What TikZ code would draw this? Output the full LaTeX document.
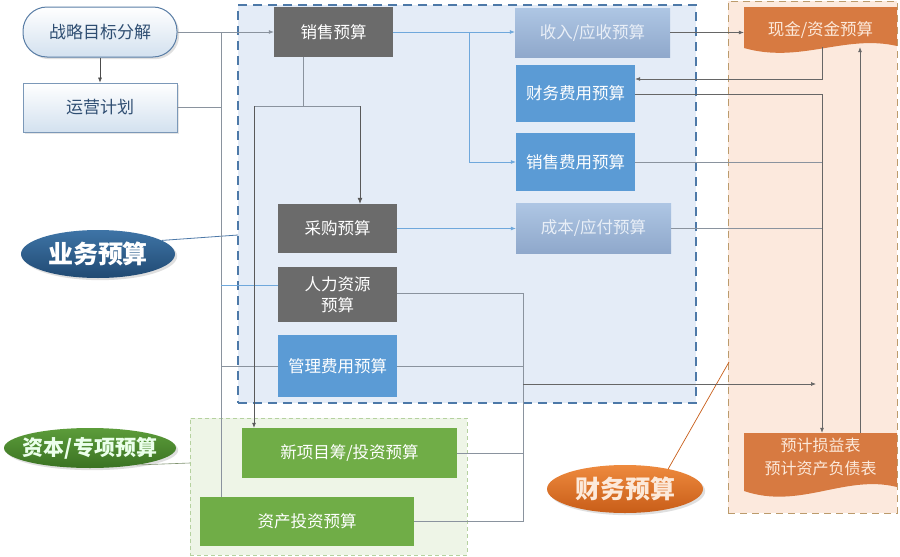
\documentclass[tikz,border=0pt]{standalone}
\usepackage{fontspec}
\newfontfamily\cjk{Noto Sans CJK SC}
\usetikzlibrary{arrows.meta,shapes.geometric,shadows}
\definecolor{lineg}{HTML}{8A939E}
\definecolor{lineb}{HTML}{6FA8DC}
\definecolor{goalbot}{HTML}{D3E1EF}
\definecolor{goalborder}{HTML}{5A7EA6}
\definecolor{goaltext}{HTML}{2F4E72}
\definecolor{boxgray}{HTML}{6B6B6B}
\definecolor{boxblue}{HTML}{5B9BD5}
\definecolor{paletop}{HTML}{AEC6E4}
\definecolor{palebot}{HTML}{8FA8CB}
\definecolor{paletext}{HTML}{E9EFF7}
\definecolor{boxgreen}{HTML}{70AD47}
\definecolor{docorange}{HTML}{D77A41}
\definecolor{doctext}{HTML}{FCE9DA}
\definecolor{bizfill}{HTML}{E4ECF7}
\definecolor{bizborder}{HTML}{4D79A8}
\definecolor{capfill}{HTML}{EEF5E7}
\definecolor{capborder}{HTML}{B5D19F}
\definecolor{finfill}{HTML}{FCE9DD}
\definecolor{finborder}{HTML}{BC9B6C}
\definecolor{bizlt}{HTML}{3E74A6}
\definecolor{bizdk}{HTML}{214A73}
\definecolor{caplt}{HTML}{5C9C3A}
\definecolor{capdk}{HTML}{3B7323}
\definecolor{finlt}{HTML}{EE8A3E}
\definecolor{findk}{HTML}{C85D18}
\tikzset{
  conn/.style={draw=lineg, line width=0.7pt},
  bconn/.style={draw=lineb, line width=0.7pt},
  arr/.style={-{Latex[length=5pt,width=4pt]}},
  box/.style={rectangle, inner sep=2pt, align=center, font=\cjk\fontsize{16.5}{21}\selectfont},
  graybox/.style={box, fill=boxgray, text=white},
  bluebox/.style={box, fill=boxblue, text=white},
  palebox/.style={box, top color=paletop, bottom color=palebot, text=paletext},
  greenbox/.style={box, fill=boxgreen, text=white},
  tag/.style={ellipse, inner sep=0pt, font=\cjk\bfseries\fontsize{25}{28}\selectfont},
  frame/.style={rectangle, inner sep=0pt},
}
\begin{document}
\begin{tikzpicture}[x=1pt,y=-1pt]
\useasboundingbox (0,0) rectangle (900,557);
\fill[white] (0,0) rectangle (900,557);

% containers
\node[frame, fill=bizfill, draw=bizborder, line width=1.2pt, dash pattern=on 9pt off 6pt,
      minimum width=458pt, minimum height=398pt] (bizbox) at (467,204) {};
\node[frame, fill=capfill, draw=capborder, line width=0.8pt, dash pattern=on 4pt off 3pt,
      minimum width=277pt, minimum height=137pt] (capbox) at (328.5,486.5) {};
\node[frame, fill=finfill, draw=finborder, line width=1pt, dash pattern=on 7pt off 5pt,
      minimum width=169pt, minimum height=512pt] (finbox) at (812.5,257) {};

% document shapes
\fill[docorange] (744,7) -- (897,7) -- (897,46) .. controls (845,34) and (800,64) .. (744,48) -- cycle;
\fill[docorange] (744,433) -- (897,433) -- (897,487) .. controls (845,474) and (800,510) .. (744,491) -- cycle;

% boxes
\node[box, rounded corners=24pt, minimum width=154pt, minimum height=50pt, top color=white,
      bottom color=goalbot, draw=goalborder, line width=1pt, text=goaltext,
      font=\cjk\fontsize{17}{21}\selectfont,
      drop shadow={opacity=0.25}] (goal) at (100,32) {战略目标分解};
\node[box, minimum width=154pt, minimum height=49pt, top color=white, bottom color=goalbot,
      draw=goalborder!80, line width=0.8pt, text=goaltext,
      font=\cjk\fontsize{17}{21}\selectfont,
      drop shadow={opacity=0.2}] (ops) at (100,107.5) {运营计划};
\node[graybox, minimum width=119pt, minimum height=50pt] (sales) at (333.5,32) {销售预算};
\node[palebox, minimum width=155pt, minimum height=49pt] (rev) at (592.5,32.5) {收入/应收预算};
\node[bluebox, minimum width=119pt, minimum height=57pt] (fin) at (575.5,93.5) {财务费用预算};
\node[bluebox, minimum width=119pt, minimum height=58pt] (sexp) at (575.5,162) {销售费用预算};
\node[graybox, minimum width=119pt, minimum height=49pt] (purch) at (337.5,228.5) {采购预算};
\node[palebox, minimum width=155pt, minimum height=50pt] (cost) at (593.5,228) {成本/应付预算};
\node[graybox, minimum width=119pt, minimum height=55pt] (hr) at (337.5,294.5) {人力资源\\预算};
\node[bluebox, minimum width=119pt, minimum height=62pt] (adm) at (337.5,366) {管理费用预算};
\node[greenbox, minimum width=215pt, minimum height=50pt] (newp) at (349.5,453) {新项目筹/投资预算};
\node[greenbox, minimum width=214pt, minimum height=49pt] (asset) at (307,521.5) {资产投资预算};
\node[box, text=doctext, minimum width=153pt, minimum height=34pt] (cash) at (820.5,30) {现金/资金预算};
\node[box, text=doctext, minimum width=153pt, minimum height=48pt, font=\cjk\fontsize{16}{23}\selectfont] (pl) at (820.5,457) {预计损益表\\预计资产负债表};

% label ellipses
\node[tag, minimum width=154pt, minimum height=48pt, top color=bizlt, bottom color=bizdk,
      text=white, drop shadow={opacity=0.25}] (biz) at (98,254) {业务预算};
\node[tag, minimum width=172pt, minimum height=40pt, inner xsep=-7pt, inner ysep=-4pt,
      top color=caplt, bottom color=capdk,
      text=white!92!green, font=\cjk\bfseries\fontsize{21}{24}\selectfont,
      drop shadow={opacity=0.25}] (cap) at (90,448) {资本/专项预算};
\node[tag, minimum width=156pt, minimum height=48pt, top color=finlt, bottom color=findk,
      text=doctext, drop shadow={opacity=0.25}] (finl) at (625,489) {财务预算};

% junction coordinates
\coordinate (j1) at (221,32);
\coordinate (j2) at (303,106);
\coordinate (j3) at (254,106);
\coordinate (j4) at (360,106);
\coordinate (j5) at (469,32);
\coordinate (j6) at (822,79);
\coordinate (j7) at (822,94);
\coordinate (j8) at (860,0);
\coordinate (j10) at (523,293);
\coordinate (j11) at (523,384);
\coordinate (bz) at (238,235);
\coordinate (cz) at (190,463);
\coordinate (fz) at (729,362);

% leader lines
\draw[draw=bizborder, line width=0.8pt] (biz.12) -- (bz);
\draw[draw=capborder!70!black, line width=0.6pt] (cap.-20) -- (cz);
\draw[draw=findk, line width=0.7pt] (finl.25) -- (fz);

% connectors
\draw[conn, arr] (goal.east) -- (sales.west);
\draw[draw=black!70, line width=0.6pt, arr] (goal.south) -- (ops.north);
\draw[conn] (j1) -- (j1 |- asset.north);
\draw[conn] (ops.east) -- (ops.east -| j1);
\draw[bconn] ([yshift=9.5pt]hr.west) -- ([yshift=9.5pt]hr.west -| j1);
\draw[conn] (adm.west) -- (adm.west -| j1);

\draw[conn] (sales.south -| j2) -- (j2);
\draw[conn] (j3) -- (j4);
\draw[conn, -{Latex[length=6pt,width=5pt]}, draw=black!65] (j4) -- (j4 |- purch.north);
\draw[conn, arr, draw=black!65] (j3) -- (j3 |- newp.north);

\draw[bconn, arr] (sales.east) -- (sales.east -| rev.west);
\draw[bconn, arr] (j5) |- (sexp.west);
\draw[bconn, arr] (purch.east) -- (purch.east -| cost.west);

\draw[conn, arr, draw=black!60] (rev.east) -- (rev.east -| cash.west);
\draw[conn, arr, draw=black!60] (cash.south -| j6) -- (j6) -- (j6 -| fin.east);
\draw[conn, arr, draw=black!60] ([yshift=-0.5pt]fin.east) -- (j7) -- (j7 |- pl.north);
\draw[conn, arr, draw=black!60] (pl.north -| j8) -- (cash.south -| j8);
\draw[conn] (sexp.east) -- (sexp.east -| j7);
\draw[conn] (cost.east) -- (cost.east -| j7);

\draw[conn] (hr.east |- j10) -- (j10) -- (j10 |- asset.east) -- (asset.east);
\draw[conn] (adm.east) -- (adm.east -| j10);
\draw[conn] (newp.east) -- (newp.east -| j10);
\draw[conn, arr, draw=black!60, shorten >=6pt] (j11) -- (j11 -| j7);
\end{tikzpicture}
\end{document}
